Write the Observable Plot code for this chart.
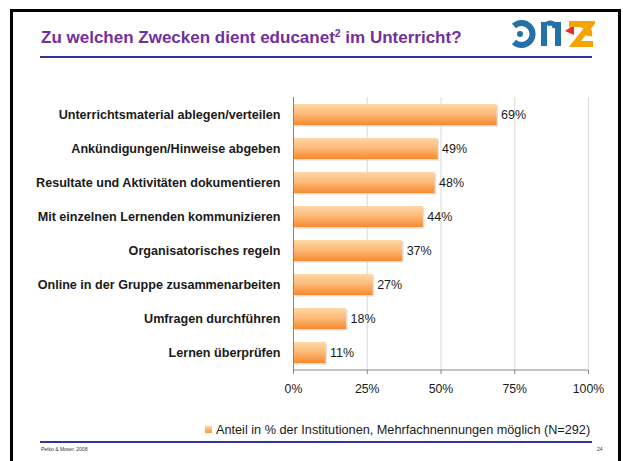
<!DOCTYPE html>
<html>
<head>
<meta charset="utf-8">
<script src="https://cdn.jsdelivr.net/npm/d3@7"></script>
<script src="https://cdn.jsdelivr.net/npm/@observablehq/plot@0.6"></script>
<style>
  html, body { margin: 0; padding: 0; background: #fff; }
  #page { position: relative; width: 623px; height: 461px; overflow: hidden; background: #fff;
          font-family: "Liberation Sans", Arial, Helvetica, sans-serif; }
  #frame { position: absolute; left: 10px; top: 9px; width: 605px; height: 480px; border: 3px solid #000; pointer-events: none; }
  #title { position: absolute; left: 41px; top: 30px; font-size: 17px; font-weight: bold; color: #7030A0; white-space: nowrap; line-height: 16px; }
  #title sup { font-size: 10.5px; line-height: 0; vertical-align: 6px; }
  .hline { position: absolute; left: 40px; width: 552px; height: 1.5px; background: #33339A; }
  #logo { position: absolute; left: 511px; top: 18px; }
  #chart { position: absolute; left: 0; top: 90px; }
  #legend { position: absolute; left: 205px; top: 423px; font-size: 12.7px; color: #1a1a1a; white-space: nowrap; line-height: 15px; }
  #legend .sw { display: inline-block; width: 7px; height: 7px; margin-right: 4px; vertical-align: 1px;
                background: linear-gradient(#FDD3A0, #F89A48); }
  #foot1 { position: absolute; left: 41px; top: 446px; font-size: 5px; color: #333; }
  #foot2 { position: absolute; left: 597px; top: 446px; font-size: 5px; color: #333; }
</style>
</head>
<body>
<div id="page">
  <div id="title">Zu welchen Zwecken dient educanet<sup>2</sup> im Unterricht?</div>
  <div id="logo">
    <svg width="84" height="32" viewBox="0 0 84 32">
      <path d="M3 8 A11 11 0 1 1 3 24" fill="none" stroke="#2470A8" stroke-width="6"/>
      <circle cx="9" cy="16" r="3" fill="#2470A8"/>
      <rect x="30" y="4" width="6" height="24" fill="#2470A8"/>
      <rect x="44" y="4" width="6" height="24" fill="#2470A8"/>
      <path d="M36 6 Q43 3 44 10" fill="none" stroke="#2470A8" stroke-width="5"/>
      <path d="M54 13 L63 7 L63 17 Z" fill="#E03028"/>
      <path d="M58 6 L80 6 L64 26 L82 26" fill="none" stroke="#F5A300" stroke-width="6"/>
      <path d="M68 6 A10 10 0 0 1 78 18" fill="none" stroke="#F5A300" stroke-width="6"/>
    </svg>
  </div>
  <div class="hline" style="top:56px"></div>
  <div id="chart"></div>
  <div id="legend"><span class="sw"></span>Anteil in % der Institutionen, Mehrfachnennungen möglich (N=292)</div>
  <div class="hline" style="top:441px"></div>
  <div id="foot1">Petko &amp; Moser, 2008</div>
  <div id="foot2">24</div>
  <div id="frame"></div>
</div>
<script>
const categories = [
  "Unterrichtsmaterial ablegen/verteilen",
  "Ankündigungen/Hinweise abgeben",
  "Resultate und Aktivitäten dokumentieren",
  "Mit einzelnen Lernenden kommunizieren",
  "Organisatorisches regeln",
  "Online in der Gruppe zusammenarbeiten",
  "Umfragen durchführen",
  "Lernen überprüfen"
];
const values = [69, 49, 48, 44, 37, 27, 18, 11];
const xTicks = [0, 25, 50, 75, 100];

const data = categories.map((c, i) => ({category: c, value: values[i]}));

const chart = Plot.plot({
  width: 623,
  height: 310,
  marginLeft: 293,
  marginRight: 35,
  marginTop: 7,
  marginBottom: 30,
  style: {fontFamily: "'Liberation Sans', Arial, sans-serif", background: "transparent", color: "#1a1a1a"},
  x: {domain: [0, 100], ticks: xTicks, label: null},
  y: {domain: categories, paddingInner: 0.37, paddingOuter: 0.185, label: null},
  marks: [
    Plot.gridX(xTicks.slice(1), {stroke: "#d9d9d9", strokeOpacity: 1}),
    Plot.barX(data, {x: "value", y: "category", fill: "#c8c8c8", fillOpacity: 0.6, dx: 1.5, dy: 1.5}),
    Plot.barX(data, {x: "value", y: "category", fill: "url(#barGrad)"}),
    Plot.ruleX([0], {stroke: "#868686"}),
    Plot.axisX({ticks: xTicks, tickFormat: d => d + "%", tickSize: 4, tickPadding: 10, fontSize: 12.3, stroke: "#868686", label: null}),
    Plot.axisY({tickSize: 0, tickPadding: 13, fontSize: 12.6, fontWeight: "bold", label: null}),
    Plot.text(data, {x: "value", y: "category", text: d => d.value + "%", textAnchor: "start", dx: 4, fontSize: 12.5, fill: "#1a1a1a"})
  ]
});

// gradient definition for the bars
const ns = "http://www.w3.org/2000/svg";
const defs = document.createElementNS(ns, "defs");
const grad = document.createElementNS(ns, "linearGradient");
grad.setAttribute("id", "barGrad");
grad.setAttribute("x1", "0"); grad.setAttribute("y1", "0");
grad.setAttribute("x2", "0"); grad.setAttribute("y2", "1");
[["0", "#FDD8A6"], ["0.45", "#FCBC7A"], ["1", "#F8892E"]].forEach(([o, c]) => {
  const s = document.createElementNS(ns, "stop");
  s.setAttribute("offset", o); s.setAttribute("stop-color", c);
  grad.appendChild(s);
});
defs.appendChild(grad);
chart.insertBefore(defs, chart.firstChild);

// bottom axis line drawn from the x scale
const xs = chart.scale("x");
const x0 = xs.apply(0), x1 = xs.apply(100);
const yBottom = 310 - 30;
d3.select(chart).append("line")
  .attr("x1", x0).attr("x2", x1).attr("y1", yBottom).attr("y2", yBottom)
  .attr("stroke", "#868686");

document.getElementById("chart").appendChild(chart);
</script>
</body>
</html>
